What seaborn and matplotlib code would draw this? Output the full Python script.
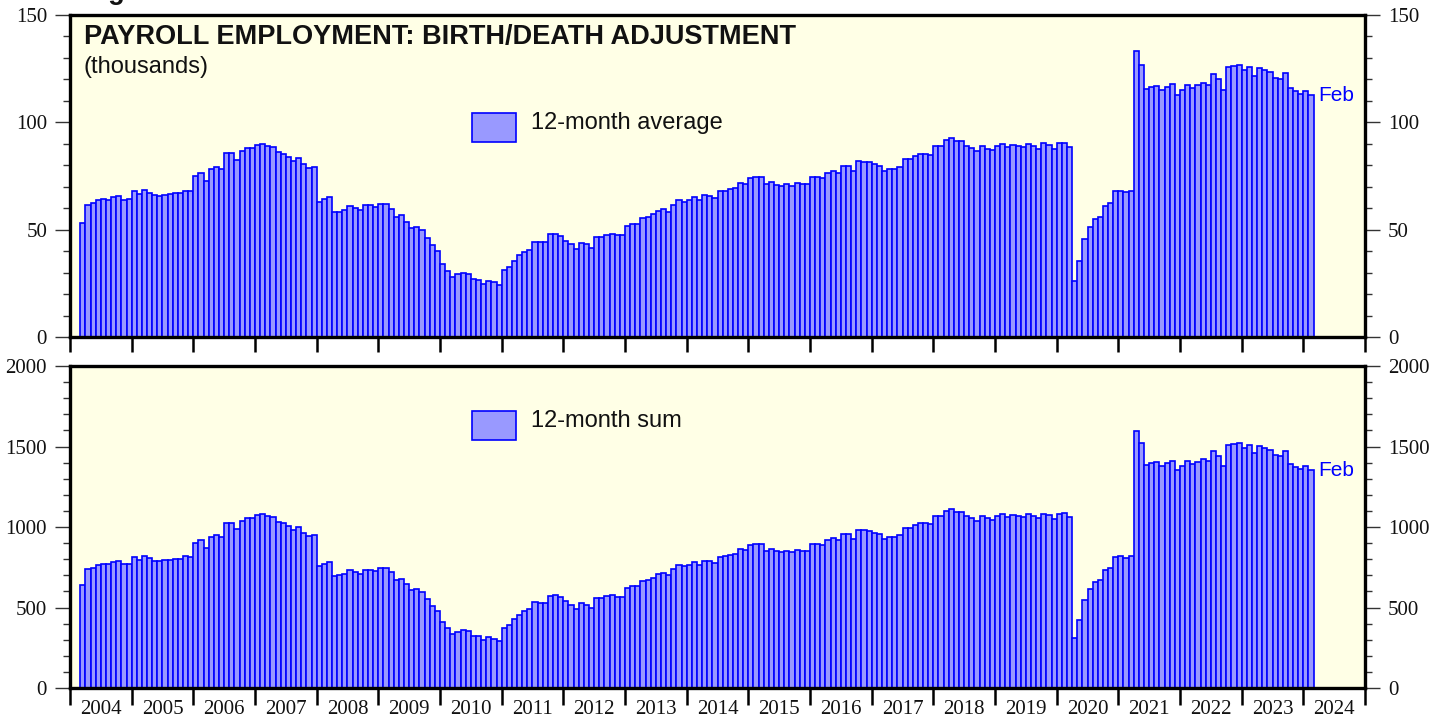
import numpy as np
import pandas as pd
import matplotlib.pyplot as plt
import seaborn as sns
from matplotlib.patches import Rectangle
from matplotlib.ticker import MultipleLocator, FixedLocator, NullFormatter, FixedFormatter

# Monthly data, Mar 2004 - Feb 2024 (thousands)
start_year, start_month = 2004, 3

avg_12m = [
    53.3, 61.4, 62.3, 63.9, 64.2, 64.0, 65.0, 65.7, 64.0, 64.3,
    67.8, 66.4, 68.5, 67.1, 66.0, 65.7, 66.2, 66.5, 67.0, 67.0, 68.1, 67.9,
    74.9, 76.4, 72.7, 78.1, 79.1, 78.1, 85.7, 85.6, 82.5, 86.7, 87.9, 87.9,
    89.6, 89.8, 89.1, 88.4, 86.0, 85.3, 83.7, 82.0, 83.3, 80.5, 78.9, 79.2,
    63.0, 64.1, 65.2, 58.1, 58.4, 59.0, 60.9, 60.1, 59.2, 61.3, 61.3, 60.4,
    62.1, 62.1, 59.8, 55.7, 56.7, 53.7, 50.8, 51.4, 49.8, 46.3, 42.7, 39.9,
    33.9, 30.9, 28.1, 29.2, 29.8, 29.5, 27.2, 26.7, 24.7, 26.2, 25.6, 24.1,
    31.2, 32.6, 35.6, 38.0, 39.8, 40.7, 44.3, 44.1, 44.1, 47.8, 48.0, 47.2,
    44.9, 43.2, 41.0, 43.8, 43.1, 41.6, 46.5, 46.5, 47.4, 47.9, 47.3, 47.3,
    51.6, 52.6, 52.6, 55.3, 55.8, 57.2, 58.9, 59.7, 58.3, 61.7, 63.9, 62.9,
    63.6, 65.1, 63.9, 66.0, 65.6, 64.7, 67.8, 68.2, 69.0, 69.5, 71.8, 71.5,
    74.1, 74.7, 74.4, 71.2, 72.2, 71.0, 70.4, 71.2, 70.4, 71.6, 71.2, 71.2,
    74.7, 74.4, 73.9, 76.4, 77.5, 76.4, 79.5, 79.5, 77.2, 82.0, 81.6, 81.4,
    80.5, 79.8, 77.2, 78.1, 78.1, 79.1, 82.8, 82.8, 84.3, 85.3, 85.3, 84.8,
    88.8, 88.8, 91.6, 92.6, 91.2, 91.2, 88.8, 87.9, 86.5, 88.8, 87.8, 87.0,
    88.8, 89.8, 88.7, 89.3, 88.8, 88.4, 89.8, 89.1, 87.8, 90.2, 89.3, 87.4,
    90.2, 90.6, 88.5, 26.0, 35.2, 45.7, 51.1, 55.1, 56.1, 61.0, 62.3, 67.9,
    68.2, 67.4, 68.2, 133.1, 126.6, 115.7, 116.3, 116.8, 114.9, 116.3, 117.7, 112.7,
    115.2, 117.4, 116.0, 117.2, 118.3, 117.5, 122.5, 120.3, 114.9, 125.9, 126.2, 126.7,
    124.2, 125.8, 121.4, 125.2, 124.5, 123.3, 120.7, 120.0, 122.8, 115.8, 114.6, 113.2,
    114.8, 112.7,
]

sum_12m = [
    640, 737, 748, 767, 770, 768, 780, 788, 768, 772,
    814, 797, 822, 805, 792, 788, 794, 798, 804, 804, 817, 815,
    899, 917, 872, 937, 949, 937, 1028, 1027, 990, 1040, 1055, 1055,
    1075, 1078, 1069, 1061, 1032, 1024, 1004, 984, 1000, 966, 947, 950,
    756, 769, 782, 697, 701, 708, 731, 721, 710, 736, 736, 725,
    745, 745, 718, 668, 680, 644, 610, 617, 598, 556, 512, 479,
    407, 371, 337, 350, 358, 354, 326, 320, 296, 314, 307, 289,
    374, 391, 427, 456, 478, 488, 532, 529, 529, 574, 576, 566,
    539, 518, 492, 526, 517, 499, 558, 558, 569, 575, 568, 568,
    619, 631, 631, 664, 670, 686, 707, 716, 700, 740, 767, 755,
    763, 781, 767, 792, 787, 776, 814, 818, 828, 834, 862, 858,
    889, 896, 893, 854, 866, 852, 845, 854, 845, 859, 854, 854,
    896, 893, 887, 917, 930, 917, 954, 954, 926, 984, 979, 977,
    966, 958, 926, 937, 937, 949, 994, 994, 1012, 1024, 1024, 1018,
    1066, 1066, 1099, 1111, 1094, 1094, 1066, 1055, 1038, 1066, 1054, 1044,
    1066, 1078, 1064, 1072, 1066, 1061, 1078, 1069, 1054, 1082, 1072, 1049,
    1082, 1087, 1062, 312, 422, 548, 613, 661, 673, 732, 748, 815,
    818, 809, 818, 1597, 1519, 1388, 1396, 1402, 1379, 1396, 1412, 1352,
    1382, 1409, 1392, 1406, 1420, 1410, 1470, 1444, 1379, 1511, 1514, 1520,
    1490, 1510, 1457, 1502, 1494, 1480, 1448, 1440, 1474, 1390, 1375, 1358,
    1378, 1352,
]

year_labels = [str(y) for y in range(2004, 2025)]

# month position (months since Jan 2004, bar centred in its month)
pos = np.arange(len(avg_12m)) + (start_month - 1) + 0.5
df = pd.DataFrame({"pos": pos, "avg": avg_12m, "sum": sum_12m})

sns.set_style("ticks")
plt.rcParams["font.family"] = ["Liberation Serif", "DejaVu Serif"]

bar_fill = "#9999FF"
bar_edge = "#0000FF"
bg = "#FFFFE6"

fig = plt.figure(figsize=(14.46, 7.19), dpi=100)
ax1 = fig.add_axes([0.0484, 0.5313, 0.8956, 0.4478])
ax2 = fig.add_axes([0.0484, 0.0431, 0.8956, 0.4478])

n_months = 12 * len(year_labels)

panels = [
    (ax1, "avg", 150, 50, 10, "12-month average", 0.6047, 0.645, 11),
    (ax2, "sum", 2000, 500, 100, "12-month sum", 0.770, 0.8096, 12.5),
]

for ax, col, ymax, major, minor, leg_text, leg_y, leg_ty, xtick_len in panels:
    ax.set_facecolor(bg)
    sns.barplot(data=df, x="pos", y=col, native_scale=True, width=1,
                color=bar_fill, saturation=1, edgecolor=bar_edge,
                linewidth=1.2, errorbar=None, ax=ax)
    ax.set_xlim(0, n_months)
    ax.set_ylim(0, ymax)
    ax.set_xlabel("")
    ax.set_ylabel("")

    for sp in ax.spines.values():
        sp.set_visible(True)
        sp.set_linewidth(2.4)
        sp.set_color("black")

    ax.yaxis.set_major_locator(MultipleLocator(major))
    ax.yaxis.set_minor_locator(MultipleLocator(minor))
    ax.tick_params(axis="y", which="major", direction="out", length=11, width=1.0,
                   color="#333333", left=True, right=True, labelleft=True,
                   labelright=True, labelsize=15, pad=5.5, labelcolor="#111111")
    ax.tick_params(axis="y", which="minor", direction="out", length=5, width=1.0,
                   color="#333333", left=True, right=True)

    ax.xaxis.set_major_locator(FixedLocator(np.arange(0, n_months + 1, 12)))
    ax.xaxis.set_major_formatter(NullFormatter())
    ax.xaxis.set_minor_locator(FixedLocator(np.arange(6, n_months, 12)))
    ax.tick_params(axis="x", which="major", direction="out", length=xtick_len,
                   width=1.8, color="black", top=False)
    ax.tick_params(axis="x", which="minor", length=0, top=False,
                   labelsize=15, pad=8.5, labelcolor="#111111")

    # legend box
    ax.add_patch(Rectangle((0.3104, leg_y), 0.034, 0.090, transform=ax.transAxes,
                           facecolor=bar_fill, edgecolor=bar_edge, linewidth=1.2))
    ax.text(0.3558, leg_ty, leg_text, transform=ax.transAxes, fontsize=17,
            family="Liberation Sans", va="baseline", color="#111111")

    # last-month label
    ax.text(pos[-1] + 1.4, df[col].iloc[-1], "Feb", color=bar_edge, fontsize=15,
            family="Liberation Sans", va="center", ha="left")

ax1.xaxis.set_minor_formatter(NullFormatter())
ax2.xaxis.set_minor_formatter(FixedFormatter(year_labels))

ax1.text(0.0108, 0.910, "PAYROLL EMPLOYMENT: BIRTH/DEATH ADJUSTMENT",
         transform=ax1.transAxes, fontsize=19.5, fontweight="bold",
         family="Liberation Sans", va="baseline", color="#111111")
ax1.text(0.0108, 0.821, "(thousands)", transform=ax1.transAxes, fontsize=17,
         family="Liberation Sans", va="baseline", color="#111111")

# header line above the chart, clipped at the top edge as in the source
fig.text(84 / 1446, 1.0014, "Figure", fontsize=19.5, fontweight="bold",
         family="Liberation Sans", va="baseline", color="#111111")

fig.savefig("out.png", dpi=100)
